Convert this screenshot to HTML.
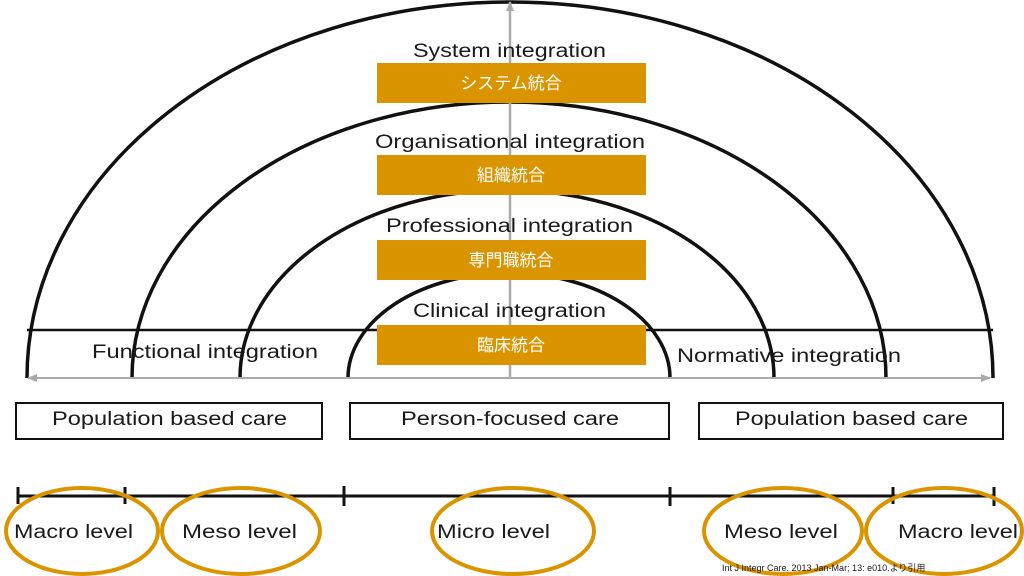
<!DOCTYPE html>
<html><head><meta charset="utf-8"><style>
body{margin:0;width:1024px;height:576px;background:#fff;overflow:hidden}
svg{display:block}
text{font-family:"Liberation Sans",sans-serif;fill:#1a1a1a}
.j{font-family:"Liberation Sans","Noto Sans CJK JP",sans-serif;fill:#fff;font-size:17px}
</style></head><body>
<svg width="1024" height="576" viewBox="0 0 1024 576">
<defs><marker id="a" markerUnits="userSpaceOnUse" markerWidth="10" markerHeight="8" refX="9" refY="4" orient="auto"><path d="M0,0L10,4L0,8z" fill="#aaa"/></marker></defs>
<g fill="none" stroke="#111" stroke-width="3.5">
<path d="M27,378 A483,376 0 0 1 993,378"/>
<path d="M132,378 A377,276 0 0 1 886,378"/>
<path d="M240,378 A267,188 0 0 1 774,378"/>
<path d="M348,378 A161,105 0 0 1 670,378"/>
</g>
<line x1="27" y1="330" x2="993" y2="330" stroke="#111" stroke-width="2.5"/>
<line x1="510" y1="378" x2="510" y2="2" stroke="#aaa" stroke-width="2.5" marker-end="url(#a)"/>
<line x1="510" y1="378" x2="28" y2="378" stroke="#aaa" stroke-width="2" marker-end="url(#a)"/>
<line x1="510" y1="378" x2="990" y2="378" stroke="#aaa" stroke-width="2" marker-end="url(#a)"/>
<g fill="#d99400">
<rect x="377" y="63" width="269" height="40"/>
<rect x="377" y="155" width="269" height="40"/>
<rect x="377" y="240" width="269" height="40"/>
<rect x="377" y="325" width="269" height="40"/>
</g>
<g font-size="19">
<text x="413" y="57" textLength="193" lengthAdjust="spacingAndGlyphs">System integration</text>
<text x="375" y="148" textLength="270" lengthAdjust="spacingAndGlyphs">Organisational integration</text>
<text x="386" y="232" textLength="247" lengthAdjust="spacingAndGlyphs">Professional integration</text>
<text x="413" y="317" textLength="193" lengthAdjust="spacingAndGlyphs">Clinical integration</text>
<text x="92" y="358" textLength="226" lengthAdjust="spacingAndGlyphs">Functional integration</text>
<text x="677" y="362" textLength="224" lengthAdjust="spacingAndGlyphs">Normative integration</text>
</g>
<g text-anchor="middle">
<text class="j" x="511" y="89">システム統合</text>
<text class="j" x="511" y="181">組織統合</text>
<text class="j" x="511" y="266">専門職統合</text>
<text class="j" x="511" y="351">臨床統合</text>
</g>
<g fill="none" stroke="#111" stroke-width="2">
<rect x="16" y="403" width="306" height="36"/>
<rect x="350" y="403" width="319" height="36"/>
<rect x="699" y="403" width="304" height="36"/>
</g>
<g font-size="19">
<text x="52" y="425" textLength="235" lengthAdjust="spacingAndGlyphs">Population based care</text>
<text x="401" y="425" textLength="218" lengthAdjust="spacingAndGlyphs">Person-focused care</text>
<text x="735" y="425" textLength="233" lengthAdjust="spacingAndGlyphs">Population based care</text>
</g>
<g stroke="#111" stroke-width="3">
<line x1="17" y1="496" x2="993" y2="496"/>
<line x1="18" y1="487" x2="18" y2="504"/>
<line x1="125" y1="487" x2="125" y2="504"/>
<line x1="344" y1="486" x2="344" y2="506"/>
<line x1="670" y1="487" x2="670" y2="506"/>
<line x1="893" y1="487" x2="893" y2="504"/>
<line x1="994" y1="487" x2="994" y2="506"/>
</g>
<g fill="none" stroke="#d99400" stroke-width="4">
<ellipse cx="82" cy="531" rx="76" ry="43"/>
<ellipse cx="241" cy="531" rx="79" ry="43"/>
<ellipse cx="513" cy="531" rx="81" ry="43"/>
<ellipse cx="783" cy="531" rx="79" ry="43"/>
<ellipse cx="944" cy="531" rx="78" ry="43"/>
</g>
<g font-size="19">
<text x="14" y="538" textLength="119" lengthAdjust="spacingAndGlyphs">Macro level</text>
<text x="182" y="538" textLength="115" lengthAdjust="spacingAndGlyphs">Meso level</text>
<text x="437" y="538" textLength="113" lengthAdjust="spacingAndGlyphs">Micro level</text>
<text x="724" y="538" textLength="114" lengthAdjust="spacingAndGlyphs">Meso level</text>
<text x="898" y="538" textLength="120" lengthAdjust="spacingAndGlyphs">Macro level</text>
</g>
<text x="722" y="571" font-size="9" fill="#444">Int J Integr Care. 2013 Jan-Mar; 13: e010.より引用</text>
</svg>
</body></html>
